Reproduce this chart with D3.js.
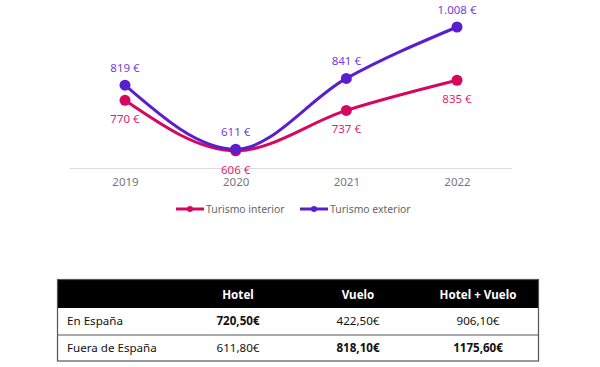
<!DOCTYPE html>
<html><head><meta charset="utf-8">
<script src="https://cdn.jsdelivr.net/npm/d3@7/dist/d3.min.js"></script>
<style>body{margin:0;background:#fff}svg{display:block}</style>
</head><body><svg id="c" width="600" height="367"></svg>
<script>
const years = ["2019","2020","2021","2022"];
const interior = [770, 606, 737, 835];
const exterior = [819, 611, 841, 1008];
const seriesNames = ["Turismo interior", "Turismo exterior"];
const tableCols = ["Hotel", "Vuelo", "Hotel + Vuelo"];
const tableRows = ["En España", "Fuera de España"];
const tableValues = [["720,50€","422,50€","906,10€"],["611,80€","818,10€","1175,60€"]];
const tableBold = [[true,false,false],[false,true,true]];

const svg = d3.select("#c");
const font = "'Noto Sans', sans-serif";
const colors = ["#d6075f", "#5a1ecf"];
const labelColors = ["#de1f70", "#7440de"];

const x = d3.scalePoint().domain(years).range([125, 457]);
const y = d3.scaleLinear().domain([550, 1008]).range([168, 27]);

// baseline
svg.append("line").attr("x1",70).attr("x2",512).attr("y1",168.5).attr("y2",168.5)
  .attr("stroke","#dcdcdc").attr("stroke-width",1);
const xAxis = d3.axisBottom(x).tickSize(0).tickPadding(10);
const gx = svg.append("g").attr("transform","translate(0,168)").call(xAxis);
gx.select(".domain").remove();
gx.selectAll("text").attr("font-family",font).attr("font-size",11.5).attr("fill","#777");

const line = d3.line().x((d,i)=>x(years[i])).y(d=>y(d)).curve(d3.curveMonotoneX);
const data = [interior, exterior];
data.forEach((vals, s) => {
  svg.append("path").attr("d", line(vals)).attr("fill","none")
    .attr("stroke", colors[s]).attr("stroke-width", 3);
});
data.forEach((vals, s) => {
  svg.selectAll(null).data(vals).enter().append("circle")
    .attr("cx",(d,i)=>x(years[i])).attr("cy",d=>y(d)).attr("r",5.5).attr("fill",colors[s]);
});
const fmt = v => d3.format(",")(v).replace(/,/g, ".") + " €";
data.forEach((vals, s) => {
  svg.selectAll(null).data(vals).enter().append("text")
    .attr("x",(d,i)=>x(years[i])).attr("y",d=>y(d) + (s===0 ? 19 : -17))
    .attr("dy","0.35em").attr("text-anchor","middle")
    .attr("font-family",font).attr("font-size",11.5).attr("fill",labelColors[s])
    .text(d=>fmt(d));
});

// legend
const legX = [176, 300];
seriesNames.forEach((n, s) => {
  const g = svg.append("g").attr("transform",`translate(${legX[s]},209)`);
  g.append("line").attr("x1",0).attr("x2",28).attr("y1",0).attr("y2",0)
    .attr("stroke",colors[s]).attr("stroke-width",3);
  g.append("circle").attr("cx",14).attr("cy",0).attr("r",3).attr("fill",colors[s]);
  g.append("text").attr("x",30).attr("y",0).attr("dy","0.35em")
    .attr("font-family",font).attr("font-size",10.4).attr("fill","#666").text(n);
});

// table
const tx0 = 57, tx1 = 539, ty0 = 279, hh = 29, rh = 26.5;
const colX = d3.scalePoint().domain(tableCols).range([238, 478]);
svg.append("rect").attr("x",tx0).attr("y",ty0).attr("width",tx1-tx0).attr("height",hh).attr("fill","#000");
tableCols.forEach(c => {
  svg.append("text").attr("x",colX(c)).attr("y",ty0+hh/2+1).attr("dy","0.35em")
    .attr("text-anchor","middle").attr("font-family",font).attr("font-size",11.6)
    .attr("font-weight","bold").attr("fill","#fff").text(c);
});
tableRows.forEach((r, i) => {
  const ry = ty0 + hh + i*rh;
  svg.append("text").attr("x",67).attr("y",ry+rh/2).attr("dy","0.35em")
    .attr("font-family",font).attr("font-size",11.6).attr("fill","#111").text(r);
  tableCols.forEach((c, j) => {
    svg.append("text").attr("x",colX(c)).attr("y",ry+rh/2).attr("dy","0.35em")
      .attr("text-anchor","middle").attr("font-family",font).attr("font-size",11.6)
      .attr("font-weight", tableBold[i][j] ? "bold" : "normal").attr("fill","#111")
      .text(tableValues[i][j]);
  });
  if (i === 0) svg.append("line").attr("x1",tx0).attr("x2",tx1).attr("y1",ry+rh+0.5).attr("y2",ry+rh+0.5)
    .attr("stroke","#555").attr("stroke-width",1);
});
svg.append("rect").attr("x",tx0+0.5).attr("y",ty0+0.5).attr("width",tx1-tx0-1)
  .attr("height",hh+2*rh-1+0.5).attr("fill","none").attr("stroke","#555").attr("stroke-width",1.2);
</script></body></html>
